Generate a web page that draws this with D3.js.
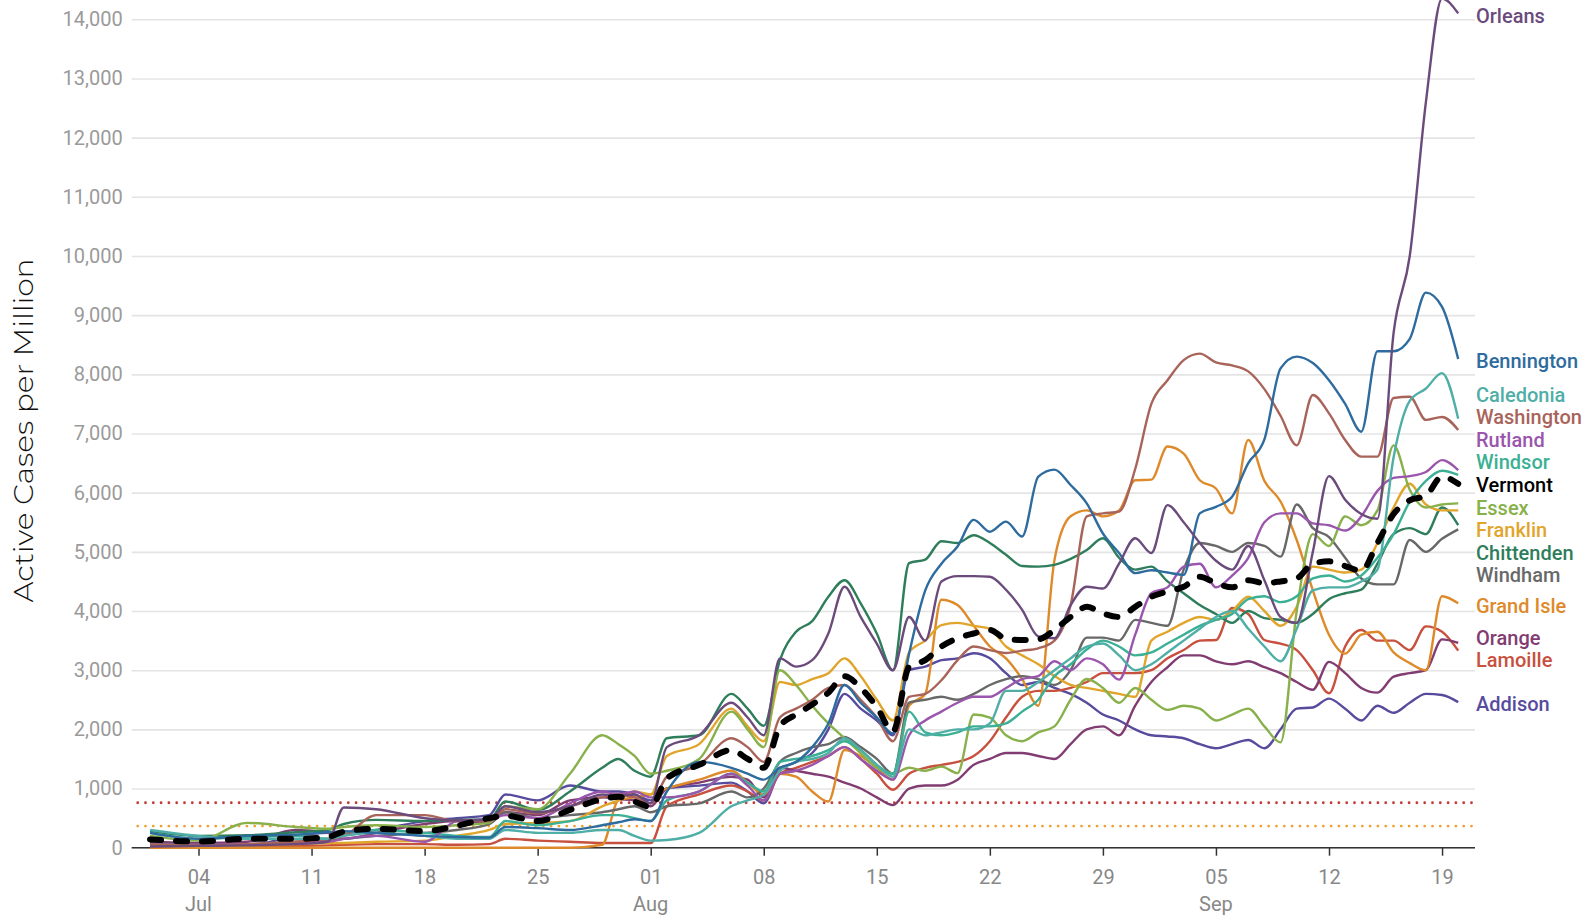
<!DOCTYPE html>
<html><head><meta charset="utf-8">
<script src="https://cdn.jsdelivr.net/npm/d3@7"></script>
<style>body{margin:0;background:#fff;} svg{display:block;}</style>
</head><body>
<svg id="c" width="1588" height="915"></svg>
<script>
// day offsets from 2021-07-01
const DAYS = [0,3,6,9,11,12,14,17,19,21,22,24,26,28,29,30,31,32,34,36,37,
  38,39,40,41,42,43,44,45,46,47,48,49,50,51,52,53,54,55,56,57,58,59,60,
  61,62,63,64,65,66,67,68,69,70,71,72,73,74,75,76,77,78,79,80,81];

const orleans = [20,30,40,60,100,680,650,500,460,470,700,600,700,900,880,900,750,1700,1900,2450,2200,
  1900,3200,3060,3170,3620,4410,3900,3450,3000,3900,3500,4500,4590,4590,4580,4360,4020,3570,3540,4100,4410,4380,4800,
  5230,4980,5790,5500,5150,4850,4700,5100,4520,3900,3800,5000,6280,5880,5640,5560,8700,10000,12600,14350,14100];
const bennington = [250,150,200,220,260,280,250,200,180,170,350,330,300,380,430,480,450,950,1450,1350,1250,
  1150,1350,1450,1700,2100,2750,2450,2200,1930,3280,4350,4800,5090,5540,5340,5510,5260,6270,6390,6130,5820,5310,4980,
  4640,4690,4650,4610,5650,5760,5930,6500,6900,8100,8300,8190,7900,7500,7030,8390,8390,8600,9380,9140,8260];
const caledonia = [300,200,150,150,150,200,250,200,150,150,300,250,250,300,300,200,120,130,250,700,800,
  900,1300,1450,1500,1600,1850,1650,1400,1200,2000,1900,1950,2000,2000,2100,2650,2650,2800,3000,3200,3400,3450,3250,
  3000,3100,3300,3500,3700,3900,4000,3700,3400,3150,3700,4350,4400,4400,4500,4700,6600,7550,7760,8020,7250];
const washington = [50,40,60,100,150,200,550,550,450,450,650,580,700,850,900,850,750,1200,1400,1850,1700,
  1450,2200,2350,2500,2700,2750,2500,2200,1800,2550,2600,2830,3170,3400,3340,3290,3330,3370,3500,4100,5600,5650,5680,
  6400,7500,7900,8240,8350,8200,8150,8050,7750,7300,6800,7650,7340,6890,6610,6610,7600,7620,7230,7280,7060];
const rutland = [50,50,60,80,100,150,200,100,450,480,550,500,750,950,900,950,850,850,950,1250,1050,
  800,1250,1300,1400,1550,1700,1500,1300,1150,1900,2150,2300,2450,2550,2550,2700,2850,2900,3150,3000,3200,3100,2840,
  3600,4300,4400,4750,4800,4400,4600,4900,5500,5650,5650,5480,5450,5360,5600,6030,6250,6280,6350,6550,6380];
const windsor = [250,150,180,200,150,250,300,250,200,180,450,380,450,550,550,500,450,800,950,1250,1100,
  950,1450,1500,1550,1650,1800,1650,1400,1250,2300,1950,1900,1950,2050,2050,2100,2300,2500,2900,3100,3350,3500,3400,
  3250,3300,3450,3600,3750,3850,3950,4200,4250,4150,4250,4550,4600,4500,4600,4900,5300,5850,6200,6370,6300];
const vermont = [140,105,150,150,180,270,320,280,370,500,540,450,640,820,860,780,690,1170,1400,1650,1500,
  1350,2050,2250,2420,2620,2900,2700,2380,1960,3060,3170,3400,3540,3620,3680,3530,3510,3520,3680,3900,4070,3960,3900,
  4070,4240,4330,4410,4580,4470,4400,4520,4470,4500,4550,4800,4840,4760,4680,5150,5640,5870,5950,6270,6150];
const essex = [200,120,420,350,320,350,380,350,380,420,700,650,1250,1900,1750,1550,1250,1300,1500,2300,2000,
  1700,3000,2750,2400,2100,1850,1600,1350,1250,1350,1300,1370,1260,2250,2200,1900,1800,1950,2050,2500,2850,2700,2450,
  2700,2500,2330,2400,2350,2150,2250,2350,2050,1780,4000,5300,5100,5600,5450,5700,6800,6050,5750,5800,5820];
const franklin = [50,30,40,60,80,80,100,120,200,300,400,420,450,700,800,950,900,1550,1750,2350,2050,
  1800,2800,2750,2850,2950,3200,2900,2500,2150,3300,3500,3760,3800,3750,3700,3400,3250,3100,2900,2750,2700,2650,2600,
  2550,3500,3650,3800,3900,3850,4000,4240,4000,3750,4070,4750,4700,4650,4700,5150,5750,6150,5800,5700,5700];
const chittenden = [280,200,210,260,300,400,470,450,470,480,780,640,950,1350,1500,1300,1200,1850,1900,2600,2350,
  2060,3170,3650,3830,4240,4520,4130,3620,3000,4810,4870,5180,5150,5280,5150,4950,4760,4750,4780,4880,5030,5230,4900,
  4700,4750,4500,4300,4100,3950,3800,4000,3880,3850,3800,3950,4200,4300,4360,4800,5300,5400,5300,5750,5450];
const windham = [80,50,60,100,120,150,200,250,300,400,600,500,550,600,650,700,600,700,750,950,850,
  1000,1450,1600,1700,1750,1870,1700,1500,1250,2450,2500,2550,2500,2600,2750,2850,2900,2850,2750,3000,3550,3550,3500,
  3850,3800,3750,4700,5150,5100,5000,5150,5100,4920,5800,5400,5250,4900,4550,4450,4450,5200,5000,5220,5380];
const grandIsle = [0,0,0,0,0,0,0,0,0,0,0,0,0,50,800,850,900,1000,1150,1300,1100,
  900,1250,1200,950,780,1650,1550,1350,1150,2400,2600,4190,4100,3750,3400,3200,2850,2400,4860,5600,5700,5600,5700,
  6210,6220,6780,6660,6210,6070,5650,6890,6200,5850,5200,4350,3600,3280,3600,3650,3300,3120,3000,4250,4130];
const orange = [100,80,100,300,250,150,250,400,450,420,600,550,800,850,820,800,700,1000,1100,1200,1150,
  850,1350,1300,1250,1200,1100,1000,850,720,1000,1050,1050,1150,1400,1500,1600,1600,1550,1500,1750,2000,2050,1900,
  2400,2800,3050,3250,3250,3150,3100,3150,3050,2950,2800,2670,3140,2950,2700,2620,2890,2950,3000,3520,3460];
const lamoille = [30,20,20,30,40,50,60,60,50,60,150,120,100,80,80,80,80,700,900,1050,950,
  800,1250,1350,1450,1550,1700,1500,1250,980,1250,1350,1400,1450,1550,1800,2200,2550,2650,2650,2700,2800,2950,2950,
  2950,3000,3200,3340,3500,3510,4050,3950,3510,3450,3340,3000,2610,3400,3680,3500,3500,3340,3740,3650,3330];
const addison = [30,20,30,200,250,250,300,450,500,550,900,800,1050,950,950,900,800,1000,1050,1100,950,
  750,1300,1450,1600,2000,2600,2350,2150,1900,3000,3060,3170,3200,3285,3200,2950,2750,2800,2700,2600,2450,2250,2150,
  2000,1900,1880,1850,1750,1680,1750,1820,1680,2000,2350,2370,2520,2350,2150,2400,2280,2450,2600,2580,2460];

const names  = ["Orleans","Bennington","Caledonia","Washington","Rutland","Windsor","Vermont","Essex","Franklin","Chittenden","Windham","Grand Isle","Orange","Lamoille","Addison"];
const values = [orleans,bennington,caledonia,washington,rutland,windsor,vermont,essex,franklin,chittenden,windham,grandIsle,orange,lamoille,addison];
const colors = ["#6b4a7c","#2e6b9e","#4faea6","#a9645a","#9a55ad","#3bb095","#000000","#88b04b","#e1a52c","#2e7d5b","#686868","#de8a2a","#813c72","#c8503e","#574b9e"];

const yTicks = d3.range(0, 14001, 1000);
const thresholds = [{v:760, c:"#c43b35"}, {v:365, c:"#f0a030"}];
const monthLabels = [{d:"2021-07-04", t:"Jul"}, {d:"2021-08-01", t:"Aug"}, {d:"2021-09-05", t:"Sep"}];

const dateOf = d => new Date(new Date(2021,6,1).getTime() + d*864e5);
const svg = d3.select("#c");
const L = 131.7, R = 1475;
const x = d3.scaleTime().domain([dateOf(0), dateOf(80)]).range([150.05, 1442.05]);
const y = d3.scaleLinear().domain([0, 14000]).range([847.7, 19.3]);

// grid + y labels
const yAxis = d3.axisLeft(y).tickValues(yTicks).tickSize(-(R-L)).tickPadding(9)
  .tickFormat(d3.format(","));
const gy = svg.append("g").attr("transform",`translate(${L},0)`).call(yAxis);
gy.select(".domain").remove();
gy.selectAll(".tick line").attr("stroke","#e4e4e4").attr("stroke-width",1.6);
gy.selectAll(".tick text").attr("fill","#9a9a9a").style("font-family","Roboto, sans-serif").style("font-size","20px");

// threshold dotted lines
svg.selectAll(".thr").data(thresholds).join("line")
  .attr("x1",L+6).attr("x2",R).attr("y1",d=>y(d.v)).attr("y2",d=>y(d.v))
  .attr("stroke",d=>d.c).attr("stroke-width",2.8).attr("stroke-linecap","round")
  .attr("stroke-dasharray","0,7.8");

// x axis
const sundays = d3.timeSunday.range(new Date(2021,6,4), new Date(2021,8,20));
const xAxis = d3.axisBottom(x).tickValues(sundays).tickSize(8).tickPadding(14).tickFormat(d3.timeFormat("%d"));
const gx = svg.append("g").attr("transform",`translate(0,${y(0)})`).call(xAxis);
gx.select(".domain").remove();
gx.selectAll(".tick line").attr("stroke","#333").attr("stroke-width",1.5);
gx.selectAll(".tick text").attr("fill","#888").style("font-family","Roboto, sans-serif").style("font-size","20px");
svg.append("line").attr("x1",L).attr("x2",R).attr("y1",y(0)).attr("y2",y(0)).attr("stroke","#333").attr("stroke-width",1.6);
svg.selectAll(".mon").data(monthLabels).join("text")
  .attr("x",d=>x(d3.timeParse("%Y-%m-%d")(d.d))).attr("y",910.5).attr("text-anchor","middle")
  .attr("fill","#888").style("font-family","Roboto, sans-serif").style("font-size","20px").text(d=>d.t);

// y title
svg.append("text").attr("transform","translate(33,430.5) rotate(-90)").attr("text-anchor","middle")
  .attr("textLength",344).attr("lengthAdjust","spacingAndGlyphs")
  .style("font-family","Montserrat, Lato, 'Noto Sans', sans-serif").style("font-weight",300).style("font-size","27px")
  .attr("fill","#111").text("Active Cases per Million");

// lines
const line = d3.line().x((v,i)=>x(dateOf(DAYS[i]))).y(v=>y(v)).curve(d3.curveMonotoneX);
const order = d3.range(names.length).filter(i=>names[i]!=="Vermont").reverse();
order.forEach(i=>{
  svg.append("path").attr("d",line(values[i])).attr("fill","none")
    .attr("stroke",colors[i]).attr("stroke-width",2.4).attr("stroke-linejoin","round");
});
const vi = names.indexOf("Vermont");
svg.append("path").attr("d",line(values[vi])).attr("fill","none")
  .attr("stroke","#000").attr("stroke-width",6).attr("stroke-linecap","round")
  .attr("stroke-dasharray","11,15");

// end labels with dodge
const gap = 22.6;
let items = names.map((n,i)=>({n, c: colors[i], t: y(values[i][values[i].length-1])}));
items.sort((a,b)=>a.t-b.t);
let clusters = items.map(it=>({items:[it], sum: it.t}));
const clTop = cl => cl.sum/cl.items.length - (cl.items.length-1)*gap/2;
let changed = true;
while(changed){
  changed = false;
  for(let i=0;i<clusters.length-1;i++){
    const a = clusters[i], b = clusters[i+1];
    const aBottom = clTop(a) + (a.items.length-1)*gap;
    if (clTop(b) - aBottom < gap){
      clusters.splice(i,2,{items:a.items.concat(b.items), sum:a.sum+b.sum});
      changed = true; break;
    }
  }
}
clusters.forEach(cl=>{ const t0 = clTop(cl); cl.items.forEach((it,k)=>it.ly = t0 + k*gap); });
svg.selectAll(".lab").data(items).join("text")
  .attr("x",R+1).attr("y",d=>d.ly + 2).attr("dy","0.36em")
  .attr("fill",d=>d.c).style("font-family","Roboto, sans-serif").style("font-weight",500).style("font-size","20px")
  .text(d=>d.n);
</script>
</body></html>
